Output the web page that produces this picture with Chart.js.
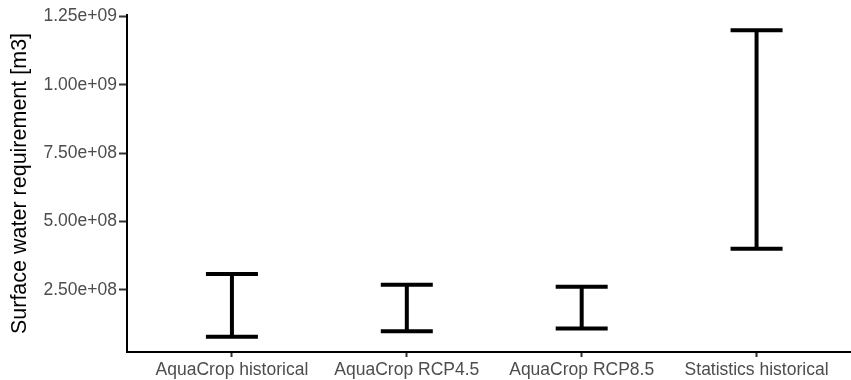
<!DOCTYPE html>
<html>
<head>
<meta charset="utf-8">
<script src="https://cdn.jsdelivr.net/npm/chart.js@4/dist/chart.umd.min.js"></script>
<style>
  html, body { margin: 0; padding: 0; background: #ffffff; }
  #wrap { width: 851px; height: 380px; position: relative; }
</style>
</head>
<body>
<div id="wrap"><canvas id="c" width="851" height="380"></canvas></div>
<script>
// ---- data ----
const categories = ['AquaCrop historical', 'AquaCrop RCP4.5', 'AquaCrop RCP8.5', 'Statistics historical'];
const lowerValues = [7.8e7, 9.8e7, 1.08e8, 4.0e8];
const upperValues = [3.08e8, 2.68e8, 2.61e8, 1.2e9];
const yTickValues = [2.5e8, 5.0e8, 7.5e8, 1.0e9, 1.25e9];
const yTitle = 'Surface water requirement [m3]';

// ggplot-like 5% expansion of the continuous axis
const dMin = Math.min(...lowerValues), dMax = Math.max(...upperValues);
const pad = (dMax - dMin) * 0.05;

function sci(v) {
  const s = v.toExponential(2);
  const [m, e] = s.split('e');
  const sign = e[0];
  let digits = e.slice(1);
  if (digits.length < 2) digits = '0' + digits;
  return m + 'e' + sign + digits;
}

const datasets = categories.map((c, i) => ({
  label: c,
  data: [{x: i, y: lowerValues[i]}, {x: i, y: upperValues[i]}],
  borderColor: '#000000',
  borderWidth: 4,
  borderCapStyle: 'butt',
  pointStyle: 'line',
  pointRadius: 26,
  pointHoverRadius: 26,
  pointBorderWidth: 4,
  pointHoverBorderWidth: 4,
  pointBorderColor: '#000000',
  pointBackgroundColor: '#000000',
  fill: false,
  tension: 0,
  clip: false
}));

const FONT = "'Liberation Sans', Arial, Helvetica, sans-serif";

new Chart(document.getElementById('c'), {
  type: 'line',
  data: { datasets },
  options: {
    responsive: false,
    devicePixelRatio: 1,
    animation: false,
    events: [],
    layout: { autoPadding: false, padding: { top: 15, right: 0, bottom: 0, left: 0 } },
    plugins: { legend: { display: false }, tooltip: { enabled: false } },
    scales: {
      x: {
        type: 'linear',
        min: -0.6,
        max: 3.54,
        afterBuildTicks: (s) => { s.ticks = categories.map((c, i) => ({ value: i })); },
        afterFit: (s) => { s.height = 28; },
        border: { display: true, color: '#000000', width: 2 },
        grid: { display: true, drawOnChartArea: false, drawTicks: true, tickLength: 5, tickColor: '#333333', tickWidth: 2 },
        ticks: {
          autoSkip: false, maxRotation: 0, minRotation: 0, padding: 3,
          color: '#4D4D4D', font: { family: FONT, size: 17.5 },
          callback: (v) => categories[v] !== undefined ? categories[v] : ''
        }
      },
      y: {
        type: 'linear',
        min: dMin - pad,
        max: dMax + pad,
        afterBuildTicks: (s) => { s.ticks = yTickValues.map(v => ({ value: v })); },
        afterFit: (s) => { s.width = 127; },
        border: { display: true, color: '#000000', width: 2 },
        grid: { display: true, drawOnChartArea: false, drawTicks: true, tickLength: 8, tickColor: '#333333', tickWidth: 2 },
        ticks: {
          padding: 2, color: '#4D4D4D', font: { family: FONT, size: 17.5 },
          callback: (v) => sci(v)
        },
        title: {
          display: true, text: yTitle, color: '#000000',
          font: { family: FONT, size: 21.5 }, padding: { top: 7, bottom: 0 }
        }
      }
    }
  }
});
</script>
</body>
</html>
